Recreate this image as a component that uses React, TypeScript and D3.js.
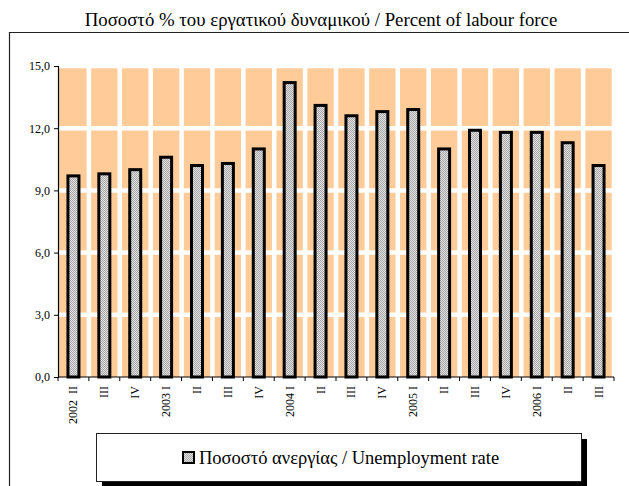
import React, { useEffect, useRef } from "react";
import * as d3 from "d3";

const quarters = [
  "2002  II", "III", "IV", "2003 I", "II", "III", "IV", "2004 I", "II",
  "III", "IV", "2005 I", "II", "III", "IV", "2006 I", "II", "III",
];
const unemployment = [
  9.7, 9.8, 10.0, 10.6, 10.2, 10.3, 11.0, 14.2, 13.1,
  12.6, 12.8, 12.9, 11.0, 11.9, 11.8, 11.8, 11.3, 10.2,
];
const yTicks = [0, 3, 6, 9, 12, 15];

const titleText = "Ποσοστό % του εργατικού δυναμικού / Percent of labour force";
const legendText = "Ποσοστό ανεργίας / Unemployment rate";

const App = () => {
  const ref = useRef<SVGSVGElement>(null);

  useEffect(() => {
    const svg = d3.select(ref.current);
    svg.selectAll("*").remove();

    const W = 629;
    const H = 486;
    const plot = { left: 58, right: 614, top: 66, bottom: 377 };
    const font = "'Liberation Serif', 'Times New Roman', serif";

    svg.attr("width", W).attr("height", H);

    // checkered grey fill for the bars
    const pat = svg
      .append("defs")
      .append("pattern")
      .attr("id", "dots")
      .attr("width", 2)
      .attr("height", 2)
      .attr("patternUnits", "userSpaceOnUse");
    pat.append("rect").attr("width", 2).attr("height", 2).attr("fill", "#e0e0e0");
    pat.append("rect").attr("width", 1).attr("height", 1).attr("fill", "#a8a8a8");
    pat.append("rect").attr("x", 1).attr("y", 1).attr("width", 1).attr("height", 1).attr("fill", "#a8a8a8");

    // chart frame
    svg.append("rect").attr("width", W).attr("height", H).attr("fill", "#fff");
    svg
      .append("path")
      .attr("d", `M9.5,${H} V32.5 H${W}`)
      .attr("fill", "none")
      .attr("stroke", "#222")
      .attr("stroke-width", 1.2);

    svg
      .append("text")
      .attr("x", 321)
      .attr("y", 26)
      .attr("text-anchor", "middle")
      .attr("font-family", font)
      .attr("font-size", 18.8)
      .text(titleText);

    const idx = quarters.map((_, i) => i);
    const x = d3.scaleBand<number>().domain(idx).range([plot.left, plot.right]);
    const y = d3.scaleLinear().domain([0, 15]).range([plot.bottom, plot.top]);

    // plot area background
    svg
      .append("rect")
      .attr("x", plot.left)
      .attr("y", y(15))
      .attr("width", plot.right - plot.left)
      .attr("height", y(0) - y(15))
      .attr("fill", "#ffcc99");

    // white gridlines
    svg
      .selectAll(".hgrid")
      .data(yTicks.filter((d) => d > 0))
      .enter()
      .append("line")
      .attr("x1", plot.left)
      .attr("x2", plot.right)
      .attr("y1", (d) => y(d))
      .attr("y2", (d) => y(d))
      .attr("stroke", "#fff")
      .attr("stroke-width", 4.5);

    svg
      .selectAll(".vgrid")
      .data(idx.slice(1).concat([quarters.length]))
      .enter()
      .append("line")
      .attr("x1", (i) => plot.left + i * x.step())
      .attr("x2", (i) => plot.left + i * x.step())
      .attr("y1", y(15))
      .attr("y2", y(0))
      .attr("stroke", "#fff")
      .attr("stroke-width", 4.5);

    // bars
    const barW = 11;
    svg
      .selectAll(".bar")
      .data(unemployment)
      .enter()
      .append("rect")
      .attr("x", (_, i) => x(i)! + x.bandwidth() / 2 - barW / 2)
      .attr("y", (d) => y(d))
      .attr("width", barW)
      .attr("height", (d) => y(0) - y(d))
      .attr("fill", "url(#dots)")
      .attr("stroke", "#000")
      .attr("stroke-width", 3);

    // axes
    const yAxis = svg
      .append("g")
      .attr("transform", `translate(${plot.left},0)`)
      .call(
        d3
          .axisLeft(y)
          .tickValues(yTicks)
          .tickSize(4)
          .tickPadding(4)
          .tickFormat((d) => d3.format(".1f")(d as number).replace(".", ","))
      );
    yAxis.select(".domain").attr("stroke", "#000").attr("stroke-width", 1.2);
    yAxis.selectAll("line").attr("stroke", "#000");
    yAxis
      .selectAll("text")
      .attr("font-family", font)
      .attr("font-size", 12)
      .attr("fill", "#000");

    const xAxis = svg
      .append("g")
      .attr("transform", `translate(0,${plot.bottom})`);
    xAxis
      .append("line")
      .attr("x1", plot.left)
      .attr("x2", plot.right)
      .attr("stroke", "#000")
      .attr("stroke-width", 1.2);
    xAxis
      .selectAll(".tick")
      .data(idx.concat([quarters.length]))
      .enter()
      .append("line")
      .attr("x1", (i) => plot.left + i * x.step())
      .attr("x2", (i) => plot.left + i * x.step())
      .attr("y1", 0)
      .attr("y2", 4)
      .attr("stroke", "#000");
    xAxis
      .selectAll(".lbl")
      .data(quarters)
      .enter()
      .append("text")
      .attr(
        "transform",
        (_, i) => `translate(${x(i)! + x.bandwidth() / 2 + 4},9) rotate(-90)`
      )
      .attr("text-anchor", "end")
      .attr("font-family", font)
      .attr("font-size", 12)
      .attr("xml:space", "preserve")
      .style("white-space", "pre")
      .text((d) => d);

    // legend with drop shadow
    const lg = { x: 96, y: 433, w: 485, h: 48 };
    svg
      .append("rect")
      .attr("x", lg.x + 6)
      .attr("y", lg.y + 6)
      .attr("width", lg.w)
      .attr("height", lg.h)
      .attr("fill", "#000");
    svg
      .append("rect")
      .attr("x", lg.x + 0.5)
      .attr("y", lg.y + 0.5)
      .attr("width", lg.w)
      .attr("height", lg.h)
      .attr("fill", "#fff")
      .attr("stroke", "#222")
      .attr("stroke-width", 1);
    svg
      .append("rect")
      .attr("x", 183)
      .attr("y", 452)
      .attr("width", 11)
      .attr("height", 11)
      .attr("fill", "url(#dots)")
      .attr("stroke", "#000")
      .attr("stroke-width", 2);
    svg
      .append("text")
      .attr("x", 199)
      .attr("y", 464)
      .attr("font-family", font)
      .attr("font-size", 18.5)
      .text(legendText);
  }, []);

  return (
    <svg
      ref={ref}
      style={{ position: "absolute", left: 0, top: 0, display: "block" }}
    />
  );
};

export default App;
